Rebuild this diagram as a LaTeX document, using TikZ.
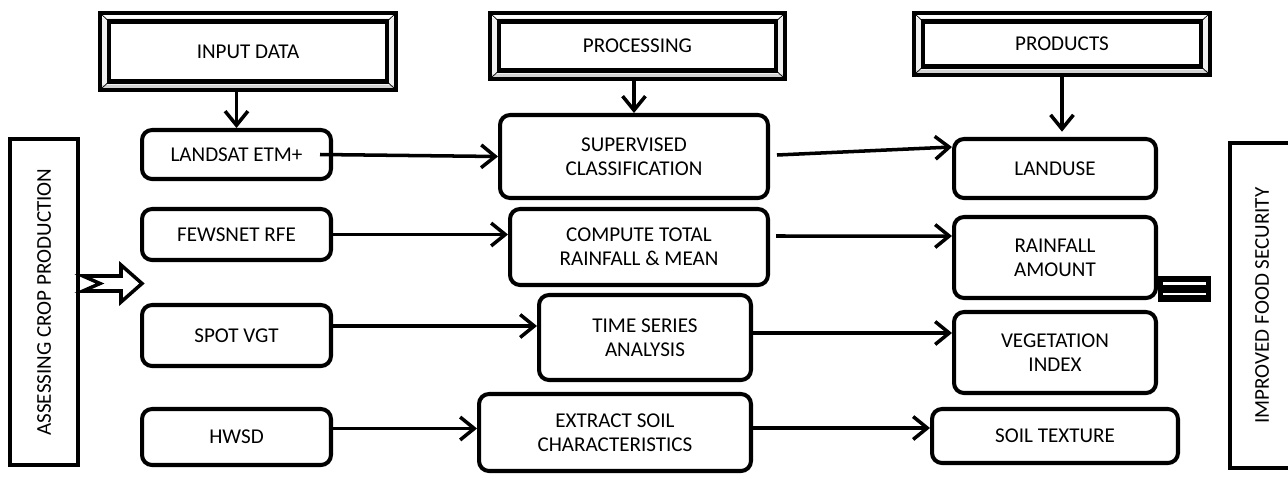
\documentclass[tikz,border=0pt]{standalone}
\usepackage{fontspec}
\setmainfont{Carlito}
\usetikzlibrary{arrows.meta}
\begin{document}
\begin{tikzpicture}[x=0.02cm,y=-0.02cm,
  font=\fontsize{12}{13.6}\selectfont,
  rbox/.style={draw, line width=2.3pt, rounded corners=0.2cm, align=center, inner sep=2pt},
  side/.style={draw, line width=2.3pt, rotate=90, inner sep=2pt},
  frame/.style={draw, line width=2.6pt, fill=gray!12, align=center,
    path picture={
      \fill[white] (path picture bounding box.north west) rectangle ([yshift=-0.1cm]path picture bounding box.north east);
      \fill[gray!35] (path picture bounding box.south west) rectangle ([yshift=0.1cm]path picture bounding box.south east);
      \draw[line width=0.4pt] (path picture bounding box.north west) -- ++(0.18cm,-0.17cm);
      \draw[line width=0.4pt] (path picture bounding box.north east) -- ++(-0.18cm,-0.17cm);
      \draw[line width=0.4pt] (path picture bounding box.south west) -- ++(0.18cm,0.17cm);
      \draw[line width=0.4pt] (path picture bounding box.south east) -- ++(-0.18cm,0.17cm);
      \draw[line width=2.3pt, fill=white] ([xshift=0.18cm,yshift=-0.17cm]path picture bounding box.north west) rectangle ([xshift=-0.18cm,yshift=0.17cm]path picture bounding box.south east);
    }},
  arr/.style={line width=2pt, -{Straight Barb[length=8pt,width=13pt,line width=2pt]}}
]
\useasboundingbox (0,0) rectangle (1288,477);
\clip (0,0) rectangle (1288,477);

% header frames
\node[frame, minimum width=5.92cm, minimum height=1.54cm] (in)   at (248,51.5) {INPUT DATA};
\node[frame, minimum width=5.90cm, minimum height=1.32cm] (proc) at (637.5,46) {PROCESSING};
\node[frame, minimum width=5.92cm, minimum height=1.24cm] (prod) at (1062,44) {PRODUCTS};

% input column
\node[rbox, minimum width=3.78cm, minimum height=0.98cm] (landsat) at (236.5,154.5) {LANDSAT ETM+};
\node[rbox, minimum width=3.78cm, minimum height=1.02cm] (fews)    at (236.5,234.5) {FEWSNET RFE};
\node[rbox, minimum width=3.78cm, minimum height=1.22cm] (spot)    at (236.5,335.5) {SPOT VGT};
\node[rbox, minimum width=3.78cm, minimum height=1.12cm] (hwsd)    at (236.5,437) {HWSD};

% processing column
\node[rbox, minimum width=5.36cm, minimum height=1.66cm] (sup)  at (634,156.5) {SUPERVISED\\CLASSIFICATION};
\node[rbox, minimum width=5.16cm, minimum height=1.52cm] (comp) at (639,247) {COMPUTE TOTAL\\RAINFALL \& MEAN};
\node[rbox, minimum width=4.24cm, minimum height=1.70cm] (time) at (645,337.5) {TIME SERIES\\ANALYSIS};
\node[rbox, minimum width=5.44cm, minimum height=1.54cm] (ext)  at (615,432.5) {EXTRACT SOIL\\CHARACTERISTICS};

% products column
\node[rbox, minimum width=4.04cm, minimum height=1.18cm] (landuse) at (1055,168.5) {LANDUSE};
\node[rbox, minimum width=4.04cm, minimum height=1.62cm] (rain)    at (1055,257.5) {RAINFALL\\AMOUNT};
\node[rbox, minimum width=4.04cm, minimum height=1.62cm] (veg)     at (1055,352.5) {VEGETATION\\INDEX};
\node[rbox, minimum width=4.92cm, minimum height=1.08cm] (soil)    at (1055,436) {SOIL TEXTURE};

% side boxes
\node[side, minimum width=6.52cm, minimum height=1.36cm] (assess) at (44,302) {ASSESSING CROP PRODUCTION};
\node[side, minimum width=6.50cm, minimum height=1.30cm] (food)   at (1262,305.5) {IMPROVED FOOD SECURITY};

% vertical arrows from headers
\draw[arr] (in.south -| landsat.north) -- (landsat.north);
\draw[arr] (proc.south -| sup.north) -- (sup.north);
\draw[arr, shorten >=3pt] (prod.south) -- (prod.south |- landuse.north);

% horizontal connectors
\draw[arr] ([xshift=-0.26cm]landsat.east) -- (sup.west);
\draw[arr] ([xshift=0.14cm,yshift=0.03cm]sup.east) -- ([yshift=0.43cm]landuse.west);
\draw[arr] (fews.east) -- (fews.east -| comp.west);
\draw[arr] ([xshift=0.12cm,yshift=0.22cm]comp.east) -- ([yshift=0.43cm]rain.west);
\draw[arr] ([yshift=0.19cm]spot.east) -- ([yshift=0.19cm]spot.east -| time.west);
\draw[arr] ([yshift=0.09cm]time.east) -- ([yshift=0.09cm]time.east -| veg.west);
\draw[arr] ([yshift=0.17cm]hwsd.east) -- ([yshift=0.17cm]hwsd.east -| ext.west);
\draw[arr] ([yshift=0.09cm]ext.east) -- ([yshift=0.09cm]ext.east -| soil.west);

% hollow notched arrow
\draw[line width=2pt, fill=white, line join=miter]
  (83,276) -- (100,283.5) -- (83,291) -- (121,291) -- (121,302) -- (142,283.5) -- (121,265) -- (121,276) -- cycle;

% equal-sign block
\fill[black] (1158,276) rectangle (1211,302);
\draw[white, line width=1.2pt] (1163,283.5) -- (1206,283.5);
\draw[white, line width=1.2pt] (1163,294) -- (1206,294);
\end{tikzpicture}
\end{document}
